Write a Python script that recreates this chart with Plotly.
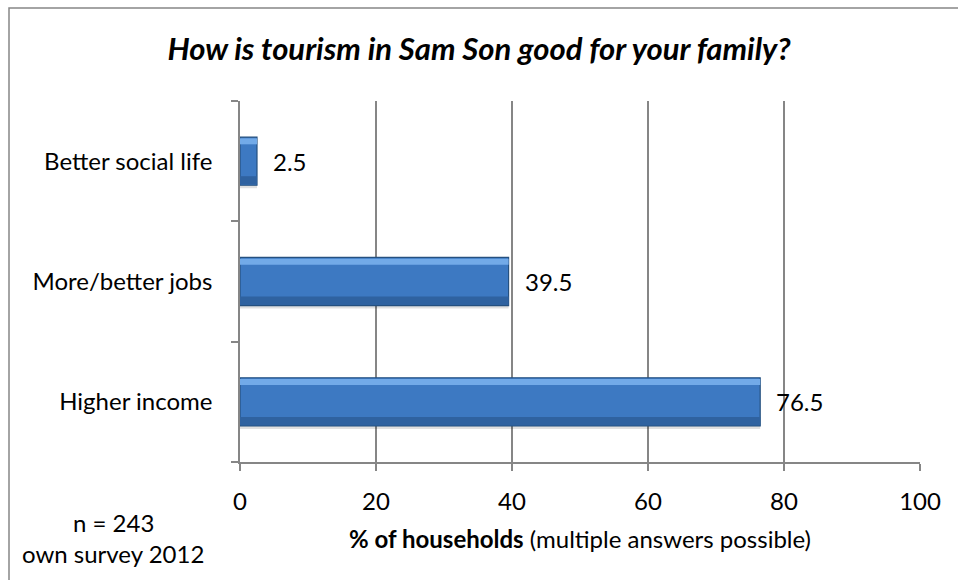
import plotly.graph_objects as go

# Survey answers, listed bottom to top
categories = ["Higher income", "More/better jobs", "Better social life"]
shares = [76.5, 39.5, 2.5]
x_ticks = [0, 20, 40, 60, 80, 100]

W, H = 958, 580
L, R, T, B = 240, 38, 101, 118
PW, PH = W - L - R, H - T - B
GRID = "#868686"
FONT = "Lato"
FS = 24


def px_x(px):
    return (px - L) / PW


def px_y(py):
    return (H - B - py) / PH


fig = go.Figure()

# soft drop shadow under each bar
fig.add_trace(go.Bar(
    y=categories, x=shares, orientation="h",
    width=0.4, offset=-0.225,
    marker=dict(color="rgba(0,0,0,0.12)", line=dict(width=0)),
    hoverinfo="skip",
))
# main bar body
fig.add_trace(go.Bar(
    y=categories, x=shares, orientation="h",
    width=0.4, offset=-0.2,
    marker=dict(color="#3D79C2", line=dict(color="#25507F", width=1.2)),
    hoverinfo="x+y",
))
# darker lower band and lighter upper band give the bevelled look
fig.add_trace(go.Bar(
    y=categories, x=shares, orientation="h",
    width=0.07, offset=-0.195,
    marker=dict(color="#2F62A0", line=dict(width=0)),
    hoverinfo="skip",
))
fig.add_trace(go.Bar(
    y=categories, x=shares, orientation="h",
    width=0.05, offset=0.14,
    marker=dict(color="#72AAE8", line=dict(width=0)),
    hoverinfo="skip",
))

# value labels next to each bar end
for cat, val in zip(categories, shares):
    fig.add_annotation(
        x=val, y=cat, xref="x", yref="y",
        text=f"{val:g}", showarrow=False,
        xanchor="left", yanchor="middle", xshift=14,
        font=dict(family=FONT, size=FS, color="black"),
    )

# footnotes and axis caption
fig.add_annotation(x=px_x(113), y=px_y(522), xref="paper", yref="paper",
                   text="n = 243", showarrow=False, xanchor="center", yanchor="middle",
                   font=dict(family=FONT, size=FS, color="black"))
fig.add_annotation(x=px_x(113), y=px_y(553), xref="paper", yref="paper",
                   text="own survey 2012", showarrow=False, xanchor="center", yanchor="middle",
                   font=dict(family=FONT, size=FS, color="black"))
fig.add_annotation(x=0.5, y=px_y(538), xref="paper", yref="paper",
                   text="<b>% of households</b> (multiple answers possible)",
                   showarrow=False, xanchor="center", yanchor="middle",
                   font=dict(family=FONT, size=FS, color="black"))

# chart frame
fig.add_shape(type="rect", xref="paper", yref="paper",
              x0=px_x(9), x1=px_x(W + 20), y0=px_y(H + 20), y1=px_y(8),
              line=dict(color=GRID, width=1.5), fillcolor="rgba(0,0,0,0)", layer="below")

fig.update_layout(
    width=W, height=H,
    margin=dict(l=L, r=R, t=T, b=B),
    paper_bgcolor="white", plot_bgcolor="white",
    showlegend=False, barmode="overlay",
    title=dict(text="<b><i>How is tourism in Sam Son good for your family?</i></b>",
               x=0.5, xanchor="center", y=1 - 49 / H, yanchor="middle",
               font=dict(family=FONT, size=31, color="black")),
    xaxis=dict(
        range=[0, 100], tickvals=x_ticks, ticktext=[str(v) for v in x_ticks],
        showgrid=True, gridcolor=GRID, gridwidth=1.5,
        showline=True, linecolor=GRID, linewidth=1.5,
        ticks="outside", ticklen=7, tickcolor=GRID, tickwidth=1.5,
        ticklabelstandoff=10,
        tickfont=dict(family=FONT, size=FS, color="black"),
        zeroline=False, fixedrange=True,
    ),
    yaxis=dict(
        type="category", categoryorder="array", categoryarray=categories,
        showgrid=False, showline=True, linecolor=GRID, linewidth=1.5,
        ticks="outside", ticklen=7, tickcolor=GRID, tickwidth=1.5,
        tickson="boundaries", ticklabelstandoff=21,
        tickfont=dict(family=FONT, size=FS, color="black"),
        fixedrange=True,
    ),
)

fig.write_html("out.html")
